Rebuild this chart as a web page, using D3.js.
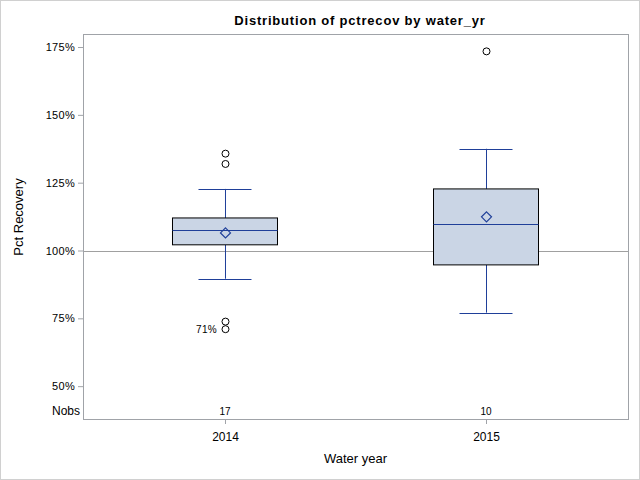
<!DOCTYPE html>
<html>
<head>
<meta charset="utf-8">
<script src="https://cdn.jsdelivr.net/npm/d3@7"></script>
<style>
	body { margin: 0; background: #fff; }
	svg { display: block; font-family: "Liberation Sans", Arial, sans-serif; }
</style>
</head>
<body>
<div id="chart"></div>
<script>
// values (percent)
const years = ['2014', '2015'];
const nobs = [17, 10];
const q1 = [102.1, 94.7];
const median = [107.7, 109.9];
const q3 = [112.0, 122.7];
const mean = [106.5, 112.4];
const whiskerLow = [89.6, 77.1];
const whiskerHigh = [122.7, 137.5];
const outliers = [[135.7, 131.9, 73.8, 71.0], [173.4]];
const outlierLabels = [{ year: '2014', value: 71.0, text: '71%' }];
const yTicks = [50, 75, 100, 125, 150, 175];

const width = 640;
const height = 480;
const plot = { left: 83, right: 628, top: 34, bottom: 419 };

const blue = '#1f3f99';
const frameColor = '#a0a3a8';

const svg = d3.select('#chart').append('svg')
	.attr('width', width)
	.attr('height', height);

// outer border
svg.append('rect')
	.attr('x', 0.5).attr('y', 0.5)
	.attr('width', width - 1).attr('height', height - 1)
	.style('fill', '#fff')
	.style('stroke', '#d0d0d0');

const x = d3.scalePoint()
	.domain(years)
	.range([plot.left, plot.right])
	.padding(0.544);

const y = d3.scaleLinear()
	.domain([37.9, 179.8])
	.range([plot.bottom, plot.top]);

const boxWidth = 105;
const capWidth = 53;

// reference line at 100%
svg.append('line')
	.attr('x1', plot.left).attr('x2', plot.right)
	.attr('y1', Math.round(y(100)) + 0.5).attr('y2', Math.round(y(100)) + 0.5)
	.style('stroke', '#a0a0a0');

// y axis
const yAxis = svg.append('g')
	.attr('transform', `translate(${plot.left},0)`)
	.call(d3.axisLeft(y).tickValues(yTicks).tickSize(5).tickPadding(3).tickFormat(d => d + '%'));
yAxis.select('.domain').remove();
yAxis.selectAll('.tick line').style('stroke', frameColor);
yAxis.selectAll('.tick text').style('font-size', '11px').style('letter-spacing', '0.3px').style('fill', '#000').style('font-family', null);

// x axis
const xAxis = svg.append('g')
	.attr('transform', `translate(0,${plot.bottom})`)
	.call(d3.axisBottom(x).tickSize(5).tickPadding(8));
xAxis.select('.domain').remove();
xAxis.selectAll('.tick line').style('stroke', frameColor);
xAxis.selectAll('.tick text').style('font-size', '12px').style('fill', '#000').style('font-family', null);

const groups = svg.selectAll('.box')
	.data(years)
	.enter().append('g')
	.attr('class', 'box');

// whiskers
groups.append('line')
	.attr('x1', d => x(d) + 0.5).attr('x2', d => x(d) + 0.5)
	.attr('y1', (d, i) => y(whiskerHigh[i])).attr('y2', (d, i) => y(q3[i]))
	.style('stroke', blue);
groups.append('line')
	.attr('x1', d => x(d) + 0.5).attr('x2', d => x(d) + 0.5)
	.attr('y1', (d, i) => y(q1[i])).attr('y2', (d, i) => y(whiskerLow[i]))
	.style('stroke', blue);
groups.append('line')
	.attr('x1', d => x(d) - capWidth / 2).attr('x2', d => x(d) + capWidth / 2)
	.attr('y1', (d, i) => Math.round(y(whiskerHigh[i])) + 0.5).attr('y2', (d, i) => Math.round(y(whiskerHigh[i])) + 0.5)
	.style('stroke', blue);
groups.append('line')
	.attr('x1', d => x(d) - capWidth / 2).attr('x2', d => x(d) + capWidth / 2)
	.attr('y1', (d, i) => Math.round(y(whiskerLow[i])) + 0.5).attr('y2', (d, i) => Math.round(y(whiskerLow[i])) + 0.5)
	.style('stroke', blue);

// boxes
groups.append('rect')
	.attr('x', d => x(d) - boxWidth / 2)
	.attr('y', (d, i) => y(q3[i]))
	.attr('width', boxWidth)
	.attr('height', (d, i) => y(q1[i]) - y(q3[i]))
	.style('fill', '#cad5e5')
	.style('stroke', '#000')
	.style('stroke-width', 1);

// median
groups.append('line')
	.attr('x1', d => x(d) - boxWidth / 2).attr('x2', d => x(d) + boxWidth / 2)
	.attr('y1', (d, i) => Math.round(y(median[i])) + 0.5).attr('y2', (d, i) => Math.round(y(median[i])) + 0.5)
	.style('stroke', blue);

// mean diamond
groups.append('path')
	.attr('d', (d, i) => {
		const cx = x(d) + 0.5, cy = y(mean[i]), r = 5;
		return `M${cx},${cy - r}L${cx + r},${cy}L${cx},${cy + r}L${cx - r},${cy}Z`;
	})
	.style('fill', 'none')
	.style('stroke', blue)
	.style('stroke-width', 1.2);

// outliers
groups.each(function (d, i) {
	d3.select(this).selectAll('.outlier')
		.data(outliers[i])
		.enter().append('circle')
		.attr('class', 'outlier')
		.attr('cx', x(d) + 0.5)
		.attr('cy', v => y(v))
		.attr('r', 3.5)
		.style('fill', 'none')
		.style('stroke', '#000');
});

svg.selectAll('.outlier-label')
	.data(outlierLabels)
	.enter().append('text')
	.attr('class', 'outlier-label')
	.attr('x', d => x(d.year) - 8)
	.attr('y', d => y(d.value) + 4)
	.attr('text-anchor', 'end')
	.style('font-size', '10px')
	.style('letter-spacing', '0.3px')
	.text(d => d.text);

// Nobs row
svg.selectAll('.nobs')
	.data(nobs)
	.enter().append('text')
	.attr('class', 'nobs')
	.attr('x', (d, i) => x(years[i]))
	.attr('y', plot.bottom - 4)
	.attr('text-anchor', 'middle')
	.style('font-size', '10px')
	.text(d => d);
svg.append('text')
	.attr('x', plot.left - 3)
	.attr('y', plot.bottom - 4)
	.attr('text-anchor', 'end')
	.style('font-size', '12px')
	.text('Nobs');

// frame
svg.append('rect')
	.attr('x', plot.left + 0.5).attr('y', plot.top + 0.5)
	.attr('width', plot.right - plot.left).attr('height', plot.bottom - plot.top)
	.style('fill', 'none')
	.style('stroke', frameColor);

// titles
svg.append('text')
	.attr('x', 360)
	.attr('y', 25)
	.attr('text-anchor', 'middle')
	.style('font-size', '13px')
	.style('letter-spacing', '0.8px')
	.style('font-weight', 'bold')
	.text('Distribution of pctrecov by water_yr');

svg.append('text')
	.attr('x', (plot.left + plot.right) / 2)
	.attr('y', 463)
	.attr('text-anchor', 'middle')
	.style('font-size', '13px')
	.text('Water year');

svg.append('text')
	.attr('transform', `translate(23,217) rotate(-90)`)
	.attr('text-anchor', 'middle')
	.style('font-size', '13px')
	.text('Pct Recovery');
</script>
</body>
</html>
